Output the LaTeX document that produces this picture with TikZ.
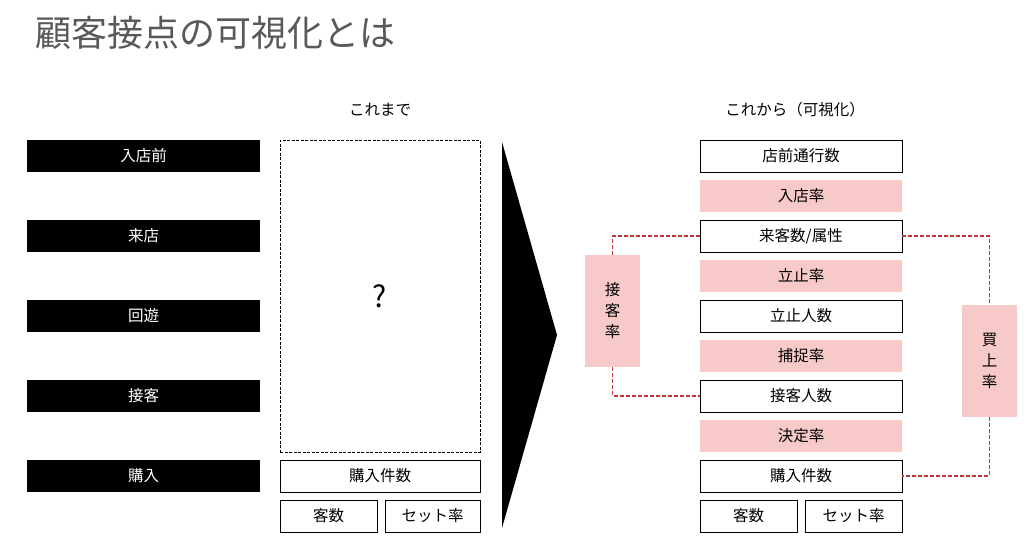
\documentclass[tikz,border=0pt]{standalone}
\usepackage{fontspec}
\newfontfamily\jp{Noto Sans CJK JP}
\definecolor{pinkbox}{HTML}{F8C9C9}
\definecolor{reddash}{HTML}{C0353A}
\begin{document}
\begin{tikzpicture}[x=1pt,y=-1pt,font=\jp\fontsize{15.5}{18}\selectfont,
  blk/.style={fill=black,text=white,minimum width=233pt,minimum height=32pt,inner sep=0pt},
  wbox/.style={draw,fill=white,line width=0.8pt,minimum width=202pt,minimum height=32pt,inner sep=0pt},
  pbox/.style={fill=pinkbox,minimum width=202pt,minimum height=32pt,inner sep=0pt},
  sbox/.style={draw,line width=0.8pt,minimum width=97pt,minimum height=32pt,inner sep=0pt},
  vbox/.style={fill=pinkbox,minimum width=55pt,minimum height=112pt,inner sep=0pt,align=center,font=\jp\fontsize{15.5}{21}\selectfont},
  rd/.style={reddash,dash pattern=on 4pt off 2pt,line width=1.3pt}]
\useasboundingbox (0,0) rectangle (1024,557);
\node[anchor=west,text=black!65,font=\jp\fontsize{36}{40}\selectfont] (title) at (32,33) {顧客接点の可視化とは};
\node (h1) at (380,110) {これまで};
\node (h2) at (795,110) {これから（可視化）};
\node[blk] (l1) at (143.5,156) {入店前};
\node[blk] (l2) at (143.5,236) {来店};
\node[blk] (l3) at (143.5,316) {回遊};
\node[blk] (l4) at (143.5,396) {接客};
\node[blk] (l5) at (143.5,476) {購入};
\node[draw,dash pattern=on 3pt off 1.5pt,line width=0.6pt,minimum width=200pt,minimum height=312pt,inner sep=0pt] (q) at (380,296) {};
\node[font=\jp\fontsize{30}{32}\selectfont] (qm) at (380,296) {?};
\node[wbox,minimum width=200pt] (a1) at (380,476) {購入件数};
\node[sbox] (a2) at (328.5,516) {客数};
\node[sbox,minimum width=95pt] (a3) at (432.5,516) {セット率};
\fill (502,142) -- (557,335) -- (502,528) -- cycle;
\node[wbox] (r1) at (801,156) {店前通行数};
\node[pbox] (r2) at (801,196) {入店率};
\node[wbox] (r3) at (801,236) {来客数/属性};
\node[pbox] (r4) at (801,276) {立止率};
\node[wbox] (r5) at (801,316) {立止人数};
\node[pbox] (r6) at (801,356) {捕捉率};
\node[wbox] (r7) at (801,396) {接客人数};
\node[pbox] (r8) at (801,436) {決定率};
\node[wbox] (r9) at (801,476) {購入件数};
\node[sbox] (r10) at (748.5,516) {客数};
\node[sbox] (r11) at (853.5,516) {セット率};
\node[vbox] (k1) at (612.5,311) {接\\客\\率};
\node[vbox] (k2) at (989.5,361) {買\\上\\率};
\draw[rd] (r3.west) -| (k1.north);
\draw[rd] (k1.south) |- (r7.west);
\draw[rd] (r3.east) -| (k2.north);
\draw[rd] (k2.south) |- (r9.east);
\end{tikzpicture}
\end{document}
